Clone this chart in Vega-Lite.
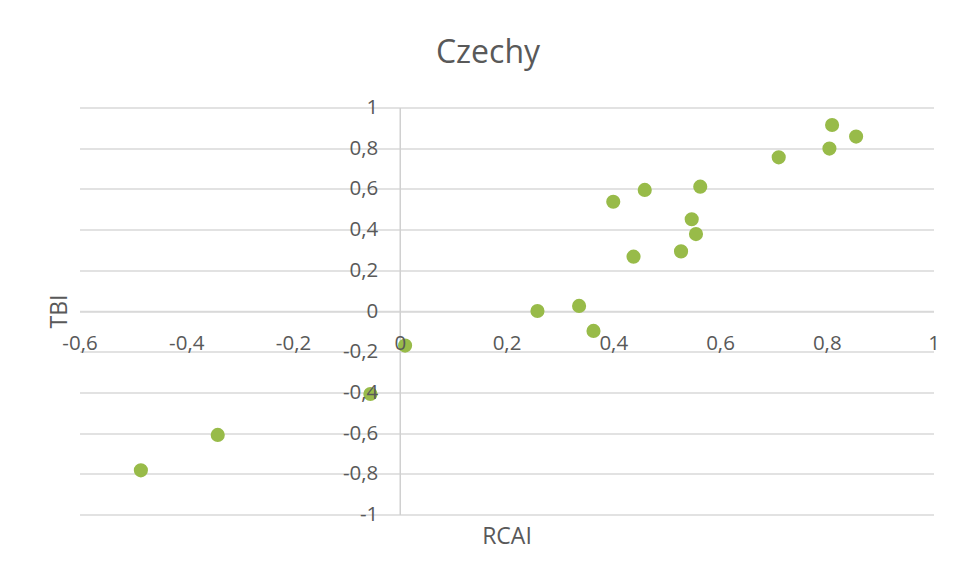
{
  "$schema": "https://vega.github.io/schema/vega-lite/v6.json",
  "width": 854,
  "height": 407,
  "autosize": {"type": "none"},
  "padding": {"left": 79.5, "top": 107.5, "right": 23.5, "bottom": 63.5},
  "background": "white",
  "title": {
    "text": "Czechy",
    "frame": "group",
    "anchor": "middle",
    "orient": "top",
    "dx": -18.5,
    "baseline": "alphabetic",
    "offset": 3,
    "font": "Open Sans",
    "fontSize": 32,
    "fontWeight": "normal",
    "color": "#595959"
  },
  "config": {
    "view": {"stroke": null},
    "axis": {
      "labelFont": "Open Sans",
      "titleFont": "Open Sans",
      "labelFontSize": 20.5,
      "titleFontSize": 23,
      "labelColor": "#595959",
      "titleColor": "#595959",
      "titleFontWeight": "normal",
      "labelOverlap": false,
      "labelFlush": false,
      "labelBound": false,
      "ticks": false
    }
  },
  "data": {
    "values": [
      {"RCAI": -0.485, "TBI": -0.783},
      {"RCAI": -0.341, "TBI": -0.609},
      {"RCAI": -0.055, "TBI": -0.408},
      {"RCAI": 0.01, "TBI": -0.17},
      {"RCAI": 0.258, "TBI": 0.0},
      {"RCAI": 0.336, "TBI": 0.025},
      {"RCAI": 0.363, "TBI": -0.098},
      {"RCAI": 0.4, "TBI": 0.537},
      {"RCAI": 0.438, "TBI": 0.267},
      {"RCAI": 0.459, "TBI": 0.595},
      {"RCAI": 0.527, "TBI": 0.293},
      {"RCAI": 0.547, "TBI": 0.451},
      {"RCAI": 0.555, "TBI": 0.378},
      {"RCAI": 0.563, "TBI": 0.611},
      {"RCAI": 0.71, "TBI": 0.755},
      {"RCAI": 0.805, "TBI": 0.798},
      {"RCAI": 0.81, "TBI": 0.914},
      {"RCAI": 0.855, "TBI": 0.857}
    ]
  },
  "layer": [
    {
      "mark": {"type": "point", "filled": true, "opacity": 0, "size": 1},
      "encoding": {
        "x": {
          "field": "RCAI", "type": "quantitative",
          "scale": {"domain": [-0.6, 1], "nice": false, "zero": false},
          "axis": {"orient": "bottom", "title": "RCAI", "labels": false, "domain": false, "grid": false, "titlePadding": 11}
        },
        "y": {
          "field": "TBI", "type": "quantitative",
          "scale": {"domain": [-1, 1], "nice": false, "zero": false},
          "axis": {"orient": "left", "title": "TBI", "labels": false, "domain": false, "grid": true,
                   "values": [-1, -0.8, -0.6, -0.4, -0.2, 0, 0.2, 0.4, 0.6, 0.8, 1],
                   "gridColor": "#d9d9d9", "gridWidth": 1.5, "titlePadding": 8}
        }
      }
    },
    {
      "mark": {"type": "point", "filled": true, "opacity": 0, "size": 1},
      "encoding": {
        "x": {
          "field": "RCAI", "type": "quantitative",
          "axis": {"orient": "bottom", "title": null, "labels": false, "domain": true, "domainColor": "#d9d9d9", "domainWidth": 1.5, "grid": false, "offset": -203.5}
        },
        "y": {
          "field": "TBI", "type": "quantitative",
          "axis": {"orient": "left", "title": null, "labels": false, "domain": true, "domainColor": "#d0d0d0", "domainWidth": 1.5, "grid": false, "offset": -320.25}
        }
      }
    },
    {
      "mark": {"type": "circle", "size": 200, "color": "#98bb49", "opacity": 1},
      "encoding": {
        "x": {
          "field": "RCAI", "type": "quantitative",
          "axis": {"orient": "bottom", "title": null, "domain": false, "grid": false, "offset": -203.5,
                   "values": [-0.6, -0.4, -0.2, 0, 0.2, 0.4, 0.6, 0.8, 1],
                   "labelExpr": "replace(toString(datum.value), '.', ',')",
                   "labelBaseline": "middle", "labelPadding": 32, "zindex": 1}
        },
        "y": {
          "field": "TBI", "type": "quantitative",
          "axis": {"orient": "left", "title": null, "domain": false, "grid": false, "offset": -320.25,
                   "values": [-1, -0.8, -0.6, -0.4, -0.2, 0, 0.2, 0.4, 0.6, 0.8, 1],
                   "labelExpr": "replace(toString(datum.value), '.', ',')",
                   "labelPadding": 22, "zindex": 1}
        }
      }
    }
  ],
  "resolve": {"axis": {"x": "independent", "y": "independent"}}
}
